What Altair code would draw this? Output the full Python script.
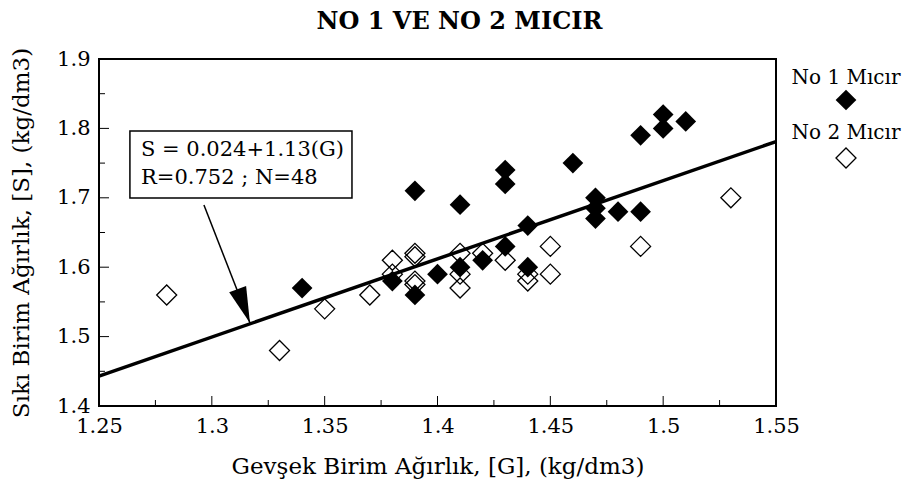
import altair as alt
import pandas as pd

# --- data ---
no1_g = [1.34, 1.38, 1.39, 1.39, 1.40, 1.41, 1.41, 1.42, 1.43, 1.43, 1.43, 1.44,
         1.44, 1.46, 1.47, 1.47, 1.47, 1.48, 1.49, 1.49, 1.50, 1.50, 1.51]
no1_s = [1.57, 1.58, 1.56, 1.71, 1.59, 1.60, 1.69, 1.61, 1.63, 1.72, 1.74, 1.60,
         1.66, 1.75, 1.70, 1.685, 1.67, 1.68, 1.68, 1.79, 1.80, 1.82, 1.81]
no2_g = [1.28, 1.33, 1.35, 1.37, 1.38, 1.38, 1.39, 1.39, 1.39, 1.39, 1.41, 1.41,
         1.41, 1.42, 1.43, 1.44, 1.44, 1.45, 1.45, 1.49, 1.53]
no2_s = [1.56, 1.48, 1.54, 1.56, 1.61, 1.59, 1.62, 1.615, 1.58, 1.575, 1.62, 1.59,
         1.57, 1.62, 1.61, 1.59, 1.58, 1.63, 1.59, 1.63, 1.70]
fit_g = [1.25, 1.55]
fit_s = [1.443, 1.781]

x_major = [1.25, 1.30, 1.35, 1.40, 1.45, 1.50, 1.55]
x_minor = [1.275, 1.325, 1.375, 1.425, 1.475, 1.525]
y_major = [1.4, 1.5, 1.6, 1.7, 1.8, 1.9]
y_minor = [1.45, 1.55, 1.65, 1.75, 1.85]

box_g = [1.2637, 1.3621]
box_s = [1.6997, 1.7963]
eq_lines = ["S = 0.024+1.13(G)", "R=0.752 ; N=48"]
eq_g = [1.2686, 1.2686]
eq_s = [1.769, 1.729]
arrow_g = [1.2965, 1.3169]
arrow_s = [1.6896, 1.5196]

series = ["No 1 Mıcır", "No 2 Mıcır"]
title_text = "NO 1 VE NO 2 MICIR"
x_title = "Gevşek Birim Ağırlık, [G], (kg/dm3)"
y_title = "Sıkı Birim Ağırlık, [S], (kg/dm3)"

FONT = "DejaVu Serif"
FS_LAB = 21
FS_TTL = 23
W, H = 677, 347

xs = alt.Scale(domain=[1.25, 1.55], nice=False, zero=False)
ys = alt.Scale(domain=[1.4, 1.9], nice=False, zero=False)

df1 = pd.DataFrame({"g": no1_g, "s": no1_s})
df2 = pd.DataFrame({"g": no2_g, "s": no2_s})
dfit = pd.DataFrame({"g": fit_g, "s": fit_s})

xaxis = alt.Axis(values=x_major, format="~g", title=x_title, grid=False, domain=False,
                 ticks=False, labelFont=FONT, labelFontSize=FS_LAB, labelColor="black",
                 labelPadding=9, labelFlush=False, labelOverlap=False,
                 titleFont=FONT, titleFontSize=FS_TTL, titleFontWeight="normal",
                 titleColor="black", titlePadding=19)
yaxis = alt.Axis(values=y_major, format="~g", title=y_title, grid=False, domain=False,
                 ticks=False, labelFont=FONT, labelFontSize=FS_LAB, labelColor="black",
                 labelPadding=9, labelFlush=False, labelOverlap=False,
                 titleFont=FONT, titleFontSize=FS_TTL, titleFontWeight="normal",
                 titleColor="black", titlePadding=23)


def X(field):
    return alt.X(field, scale=xs, axis=xaxis, title=x_title)


def Y(field):
    return alt.Y(field, scale=ys, axis=yaxis, title=y_title)


fit = alt.Chart(dfit).mark_line(color="black", strokeWidth=3.5).encode(
    x=X("g:Q"), y=Y("s:Q"))

open_pts = alt.Chart(df2).mark_point(shape="diamond", filled=False, color="black",
                                     strokeWidth=1.3, size=400, opacity=1).encode(
    x=X("g:Q"), y=Y("s:Q"))

filled_pts = alt.Chart(df1).mark_point(shape="diamond", filled=True, color="black",
                                       size=430, opacity=1).encode(
    x=X("g:Q"), y=Y("s:Q"))

# manual inward ticks
xt_major = alt.Chart(pd.DataFrame({"g": x_major})).mark_rule(color="black", strokeWidth=1).encode(
    x=X("g:Q"), y=alt.value(H), y2=alt.value(H - 10))
xt_minor = alt.Chart(pd.DataFrame({"g": x_minor})).mark_rule(color="black", strokeWidth=1).encode(
    x=X("g:Q"), y=alt.value(H), y2=alt.value(H - 6))
yt_major = alt.Chart(pd.DataFrame({"s": y_major})).mark_rule(color="black", strokeWidth=1).encode(
    y=Y("s:Q"), x=alt.value(0), x2=alt.value(10))
yt_minor = alt.Chart(pd.DataFrame({"s": y_minor})).mark_rule(color="black", strokeWidth=1).encode(
    y=Y("s:Q"), x=alt.value(0), x2=alt.value(6))

# annotation box
box = alt.Chart(pd.DataFrame({"g": [box_g[0]], "g2": [box_g[1]],
                              "s": [box_s[0]], "s2": [box_s[1]]})).mark_rect(
    fill="white", stroke="black", strokeWidth=1.5).encode(
    x=X("g:Q"), x2="g2:Q", y=Y("s:Q"), y2="s2:Q")

eq = alt.Chart(pd.DataFrame({"g": eq_g, "s": eq_s, "t": eq_lines})).mark_text(
    align="left", baseline="middle", font=FONT, fontSize=FS_LAB, color="black").encode(
    x=X("g:Q"), y=Y("s:Q"), text="t:N")

arrow = alt.Chart(pd.DataFrame({"g": [arrow_g[0]], "g2": [arrow_g[1]],
                                "s": [arrow_s[0]], "s2": [arrow_s[1]]})).mark_rule(
    color="black", strokeWidth=1.5).encode(
    x=X("g:Q"), x2="g2:Q", y=Y("s:Q"), y2="s2:Q")

head = alt.Chart(pd.DataFrame({"g": [arrow_g[1]], "s": [arrow_s[1]]})).mark_point(
    shape="M 0 0 L -0.5 -2 L 0.5 -2 Z", filled=True, color="black", opacity=1,
    size=1296, angle=340).encode(x=X("g:Q"), y=Y("s:Q"))

# custom legend outside the plot
leg_df = pd.DataFrame({"name": series})
leg_text1 = alt.Chart(leg_df).transform_filter(alt.datum.name == series[0]).mark_text(
    font=FONT, fontSize=20, color="black", align="center", baseline="middle").encode(
    x=alt.value(W + 70), y=alt.value(19), text="name:N")
leg_sym1 = alt.Chart(leg_df).transform_filter(alt.datum.name == series[0]).mark_point(
    shape="diamond", filled=True, color="black", size=430, opacity=1).encode(
    x=alt.value(W + 70), y=alt.value(41))
leg_text2 = alt.Chart(leg_df).transform_filter(alt.datum.name == series[1]).mark_text(
    font=FONT, fontSize=20, color="black", align="center", baseline="middle").encode(
    x=alt.value(W + 70), y=alt.value(74), text="name:N")
leg_sym2 = alt.Chart(leg_df).transform_filter(alt.datum.name == series[1]).mark_point(
    shape="diamond", filled=False, color="black", strokeWidth=1.3, size=400, opacity=1).encode(
    x=alt.value(W + 70), y=alt.value(99))

chart = alt.layer(
    fit, xt_major, xt_minor, yt_major, yt_minor, open_pts, filled_pts,
    arrow, head, box, eq, leg_text1, leg_sym1, leg_text2, leg_sym2,
).properties(
    width=W, height=H,
    title=alt.Title(title_text, font=FONT, fontSize=24, fontWeight="bold", color="black",
                    anchor="middle", dx=22, offset=13),
    autosize=alt.AutoSizeParams(type="none"),
    padding={"left": 99, "top": 59, "right": 134, "bottom": 83},
).configure(background="white").configure_view(stroke="black", strokeWidth=2)

chart.save("out.html", embed_options={"renderer": "svg", "actions": False})
